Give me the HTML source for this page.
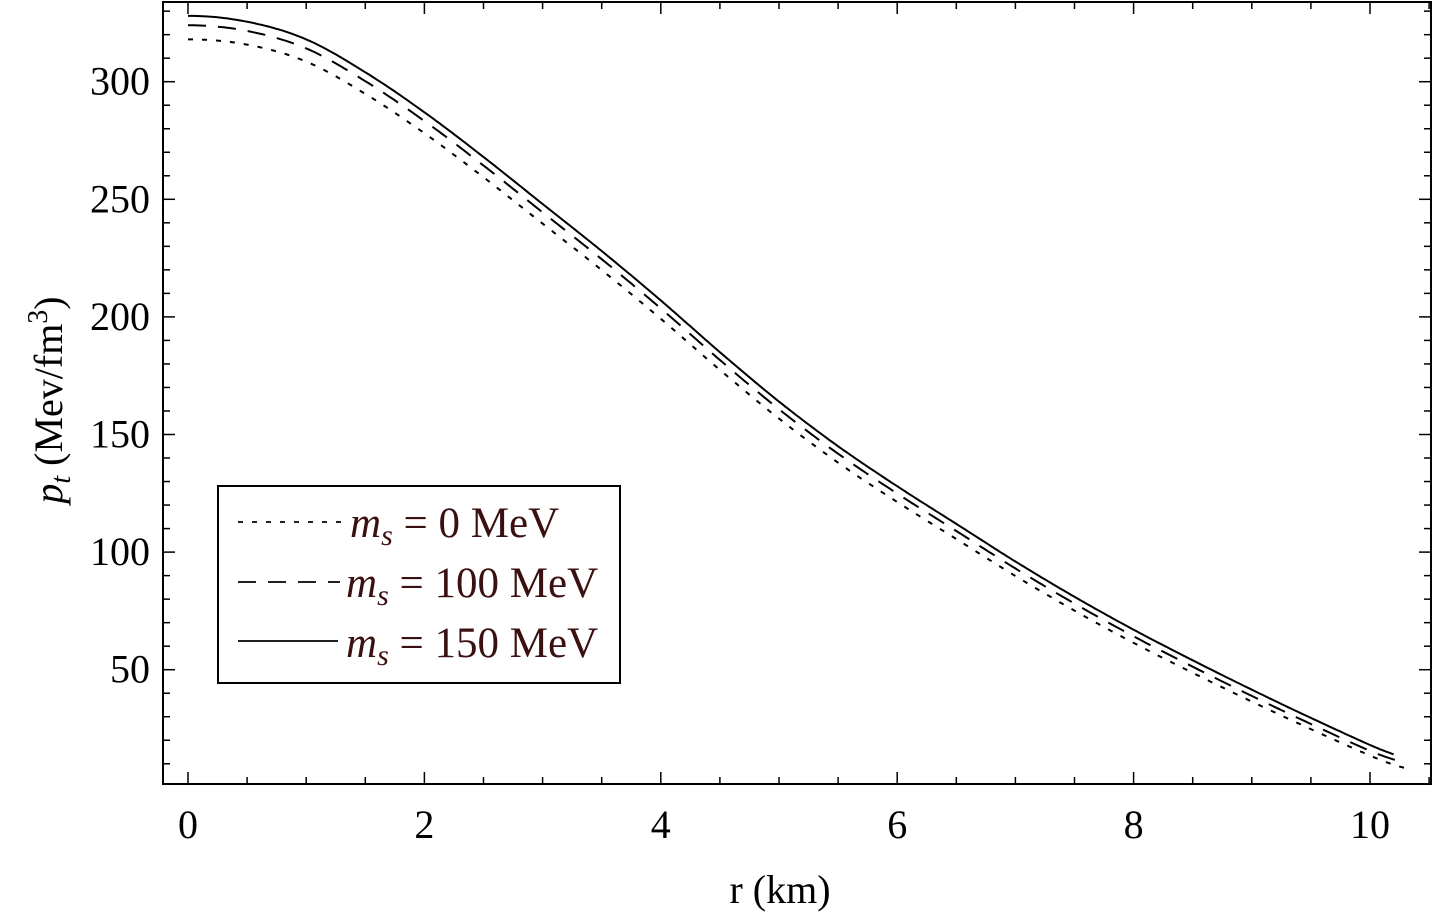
<!DOCTYPE html>
<html><head><meta charset="utf-8"><style>
html,body{margin:0;padding:0;background:#fff;}
svg{display:block;font-family:"Liberation Serif",serif;}
</style></head><body>
<svg id="s" width="1433" height="916" viewBox="0 0 1433 916" xmlns="http://www.w3.org/2000/svg">
<rect x="0" y="0" width="1433" height="916" fill="#fff"/>
<g id="ticks" stroke="#000" stroke-width="1.5"></g>
<g id="curves" fill="none" stroke="#000"></g>
<rect x="163" y="2" width="1268" height="782" fill="none" stroke="#000" stroke-width="2"/>
<g font-size="40" text-anchor="end" id="ylab"></g>
<g font-size="40" text-anchor="middle" id="xlab"></g>
<text x="780" y="903" font-size="40" text-anchor="middle">r (km)</text>
<text transform="translate(62,400) rotate(-90)" font-size="40" text-anchor="middle"><tspan font-style="italic">p</tspan><tspan font-style="italic" font-size="28" dy="8">t</tspan><tspan dy="-8"> (Mev/fm</tspan><tspan font-size="28" dy="-15">3</tspan><tspan dy="15">)</tspan></text>
<rect x="218" y="486" width="402" height="197" fill="#fff" stroke="#000" stroke-width="2"/>
<line x1="238" y1="522" x2="345" y2="522" stroke="#000" stroke-width="1.8" stroke-dasharray="5,9"/>
<line x1="238" y1="582" x2="340" y2="582" stroke="#000" stroke-width="1.8" stroke-dasharray="18,12"/>
<line x1="238" y1="641" x2="338" y2="641" stroke="#000" stroke-width="1.8"/>
<g font-size="43" fill="#3a1010">
<text x="350" y="537"><tspan font-style="italic">m</tspan><tspan font-style="italic" font-size="30" dy="8">s</tspan><tspan dy="-8"> = 0 MeV</tspan></text>
<text x="346" y="597"><tspan font-style="italic">m</tspan><tspan font-style="italic" font-size="30" dy="8">s</tspan><tspan dy="-8"> = 100 MeV</tspan></text>
<text x="346" y="657"><tspan font-style="italic">m</tspan><tspan font-style="italic" font-size="30" dy="8">s</tspan><tspan dy="-8"> = 150 MeV</tspan></text>
</g>
</svg>
<script>
const NS="http://www.w3.org/2000/svg";
const X=r=>188+118.2*r, Y=v=>81.7+(300-v)*2.352;
function el(p,t,a,txt){const e=document.createElementNS(NS,t);for(const k in a)e.setAttribute(k,a[k]);if(txt)e.textContent=txt;document.getElementById(p).appendChild(e);}
for(let v=10;v<=330;v+=10){const y=Y(v);const L=v%50==0?12:7;el("ticks","line",{x1:163,y1:y,x2:163+L,y2:y});el("ticks","line",{x1:1431,y1:y,x2:1431-L,y2:y});if(v%50==0)el("ylab","text",{x:150,y:y+13},String(v));}
for(let r=0;r<=10.5;r+=0.5){const x=X(r);const L=(r%2==0)?12:7;el("ticks","line",{x1:x,y1:784,x2:x,y2:784-L});el("ticks","line",{x1:x,y1:2,x2:x,y2:2+L});if(r%2==0)el("xlab","text",{x:x,y:838},String(r));}
const base=[[0,328],[0.5,325.5],[1,318],[1.5,304],[2,287],[2.5,268],[3,248],[3.5,228],[4,207],[4.5,185],[5,164],[5.5,145],[6,128],[6.5,112],[7,96],[7.5,81],[8,67],[8.5,54],[9,41.5],[9.5,29.5],[10,18],[10.2,14]];
function off(a,b){return r=>a+(b-a)*r/10;}
const S=base;
const dO=off(-4,-2.5), pO=off(-10,-4.5);
const D=base.map(p=>[p[0],p[1]+dO(p[0])]); D[D.length-1]=[10.25,11];
const P=base.map(p=>[p[0],p[1]+pO(p[0])]); P.push([10.35,7.5]);
function path(pts){let d="M"+X(pts[0][0])+","+Y(pts[0][1]);for(let i=0;i<pts.length-1;i++){const p0=i==0?[-pts[1][0],pts[1][1]]:pts[i-1],p1=pts[i],p2=pts[i+1],p3=pts[Math.min(pts.length-1,i+2)];for(let k=1;k<=20;k++){const t=k/20,t2=t*t,t3=t2*t;const f=(a,b,c,e)=>0.5*(2*b+(-a+c)*t+(2*a-5*b+4*c-e)*t2+(-a+3*b-3*c+e)*t3);d+=" L"+X(f(p0[0],p1[0],p2[0],p3[0])).toFixed(1)+","+Y(f(p0[1],p1[1],p2[1],p3[1])).toFixed(1);}}return d;}
el("curves","path",{d:path(P),"stroke-width":2,"stroke-dasharray":"5,9"});
el("curves","path",{d:path(D),"stroke-width":2,"stroke-dasharray":"18,12"});
el("curves","path",{d:path(S),"stroke-width":2});
</script>
</body></html>
